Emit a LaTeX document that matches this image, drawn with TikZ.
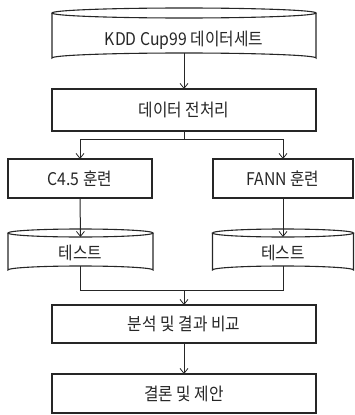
\documentclass[tikz,border=0pt]{standalone}
\usepackage{fontspec}
\setmainfont{Noto Sans CJK KR}[FakeStretch=0.9]
\usetikzlibrary{arrows.meta}
\begin{document}
\begin{tikzpicture}[x=1pt,y=-1pt,
  every node/.style={inner sep=0pt, outer sep=0pt, font=\fontsize{17.5}{20}\selectfont, text=black!85},
  boxnode/.style={draw=black!85, line width=1.2pt, rectangle},
  cylnode/.style={rectangle},
  conn/.style={draw=black!85, line width=1pt},
  arr/.style={conn, -{Straight Barb[length=5pt,width=8pt,line width=0.8pt]}},
  cylline/.style={draw=black!85, line width=1.1pt}]
\useasboundingbox (0,0) rectangle (354,415);
% top cylinder: x 52..316, top ellipse centre y 13, bottom centre y 58, ry 5
\node[cylnode, minimum width=264pt, minimum height=45pt] (ds) at (184,35.5) {};
\node at (184,40.5) (dst) {KDD Cup99 데이터세트};
\draw[cylline] (ds.north) ellipse [x radius=132pt, y radius=5pt];
\draw[cylline] (ds.north west) -- (ds.south west) arc [start angle=180, end angle=0, x radius=132pt, y radius=5pt] -- (ds.north east);
% preprocessing
\node[boxnode, minimum width=264pt, minimum height=42pt] (pre) at (184,110) {데이터 전처리};
% training boxes
\node[boxnode, minimum width=144pt, minimum height=39pt] (c45) at (80,178.5) {C4.5 훈련};
\node[boxnode, minimum width=140pt, minimum height=39pt] (fann) at (283,178.5) {FANN 훈련};
% test cylinders
\node[cylnode, minimum width=145pt, minimum height=37pt] (t1) at (80.5,251.5) {};
\node at (80.5,253) (t1t) {테스트};
\draw[cylline] (t1.north) ellipse [x radius=72.5pt, y radius=4pt];
\draw[cylline] (t1.north west) -- (t1.south west) arc [start angle=180, end angle=0, x radius=72.5pt, y radius=4pt] -- (t1.north east);
\node[cylnode, minimum width=141pt, minimum height=37pt] (t2) at (283,251.5) {};
\node at (283,253) (t2t) {테스트};
\draw[cylline] (t2.north) ellipse [x radius=70.5pt, y radius=4pt];
\draw[cylline] (t2.north west) -- (t2.south west) arc [start angle=180, end angle=0, x radius=70.5pt, y radius=4pt] -- (t2.north east);
% analysis and conclusion
\node[boxnode, minimum width=264pt, minimum height=38pt] (ana) at (184,324) {분석 및 결과 비교};
\node[boxnode, minimum width=264pt, minimum height=39pt] (con) at (184,393.5) {결론 및 제안};
% junction coordinates
\coordinate (split) at (184,139);
\coordinate (sl) at (80,139);
\coordinate (sr) at (283,139);
\coordinate (jl) at (80.5,290);
\coordinate (jr) at (283,290);
\coordinate (jm) at (184,290);
% connectors
\draw[arr] ([yshift=5pt]ds.south) -- (pre.north);
\draw[conn] (pre.south) -- (split);
\draw[conn] (sl) -- (sr);
\draw[arr] (sl) -- (c45.north);
\draw[arr] (sr) -- (fann.north);
\draw[arr] (c45.south) -- ([yshift=-4pt]t1.north);
\draw[arr] (fann.south) -- ([yshift=-4pt]t2.north);
\draw[conn] ([yshift=4pt]t1.south) -- (jl) -- (jr) -- ([yshift=4pt]t2.south);
\draw[arr] (jm) -- (ana.north);
\draw[arr] (ana.south) -- (con.north);
\end{tikzpicture}
\end{document}
